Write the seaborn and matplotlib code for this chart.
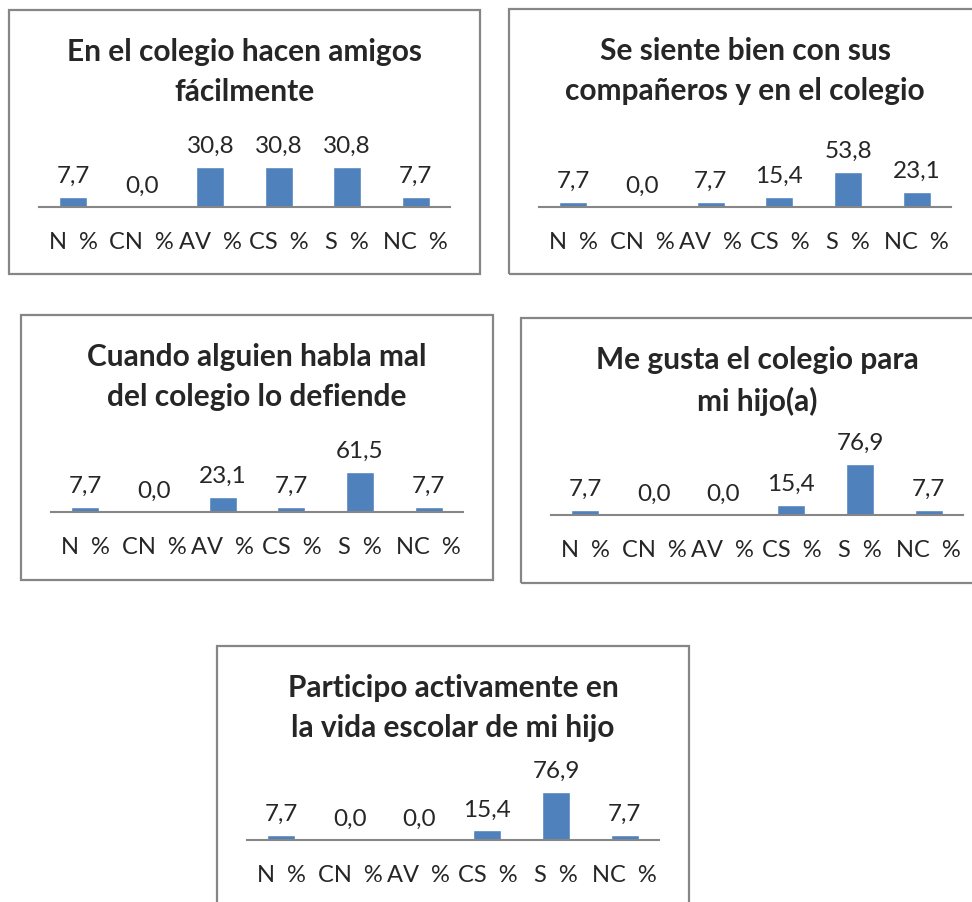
import matplotlib
matplotlib.use("Agg")
import matplotlib.pyplot as plt
import seaborn as sns
from matplotlib.patches import Rectangle

categories = ["N  %", "CN  %", "AV  %", "CS  %", "S  %", "NC  %"]

titles = [
    "En el colegio hacen amigos\nfácilmente",
    "Se siente bien con sus\ncompañeros y en el colegio",
    "Cuando alguien habla mal\ndel colegio lo defiende",
    "Me gusta el colegio para\nmi hijo(a)",
    "Participo activamente en\nla vida escolar de mi hijo",
]

amigos = [7.7, 0.0, 30.8, 30.8, 30.8, 7.7]
companeros = [7.7, 0.0, 7.7, 15.4, 53.8, 23.1]
defiende = [7.7, 0.0, 23.1, 7.7, 61.5, 7.7]
gusta = [7.7, 0.0, 0.0, 15.4, 76.9, 7.7]
participo = [7.7, 0.0, 0.0, 15.4, 76.9, 7.7]

series = [amigos, companeros, defiende, gusta, participo]

# layout in pixels: box (x0, y0, x1, y1), axis line (x0, x1, y), y max, title centre y
W, H = 972, 903
layout = [
    dict(box=(9, 11, 480, 275), axis=(39, 450, 208), ymax=46, ty=72),
    dict(box=(509, 10, 980, 275), axis=(539, 951, 208), ymax=92, ty=71),
    dict(box=(21, 316, 493, 581), axis=(51, 463, 513), ymax=92, ty=377),
    dict(box=(521, 319, 985, 584), axis=(551, 963, 516), ymax=91, ty=381),
    dict(box=(217, 647, 689, 910), axis=(247, 659, 841), ymax=97, ty=708),
]

sns.set_style("white")
plt.rcParams["font.family"] = ["Lato", "DejaVu Sans"]

BLUE = "#4F81BD"
GRAY = "#868686"

fig = plt.figure(figsize=(W / 100, H / 100), dpi=100)
fig.patch.set_facecolor("white")

for title, values, lay in zip(titles, series, layout):
    bx0, by0, bx1, by1 = lay["box"]
    fig.patches.append(Rectangle((bx0 / W, 1 - by1 / H), (bx1 - bx0) / W, (by1 - by0) / H,
                                 transform=fig.transFigure, fill=False,
                                 edgecolor=GRAY, linewidth=1.6, zorder=0))
    ax0, ax1, ay = lay["axis"]
    hpx = 60
    ax = fig.add_axes([ax0 / W, 1 - ay / H, (ax1 - ax0) / W, hpx / H])
    sns.barplot(x=categories, y=values, ax=ax, color=BLUE, saturation=1, width=0.41)
    ax.set_ylim(0, lay["ymax"])
    ax.set_xlim(-0.5, len(categories) - 0.5)
    ax.patch.set_alpha(0)
    for s in ["top", "left", "right"]:
        ax.spines[s].set_visible(False)
    ax.spines["bottom"].set_color(GRAY)
    ax.spines["bottom"].set_linewidth(1.5)
    ax.set_yticks([])
    ax.set_xlabel("")
    ax.set_ylabel("")
    ax.tick_params(axis="x", length=0, pad=17, labelsize=17)
    ax.bar_label(ax.containers[0], labels=[f"{v:.1f}".replace(".", ",") for v in values],
                 padding=8, fontsize=17.5)
    fig.text((ax0 + ax1) / 2 / W, 1 - lay["ty"] / H, title, ha="center", va="center",
             fontsize=21.5, fontweight="bold", linespacing=1.5)

fig.savefig("out.png", dpi=100, facecolor="white")
